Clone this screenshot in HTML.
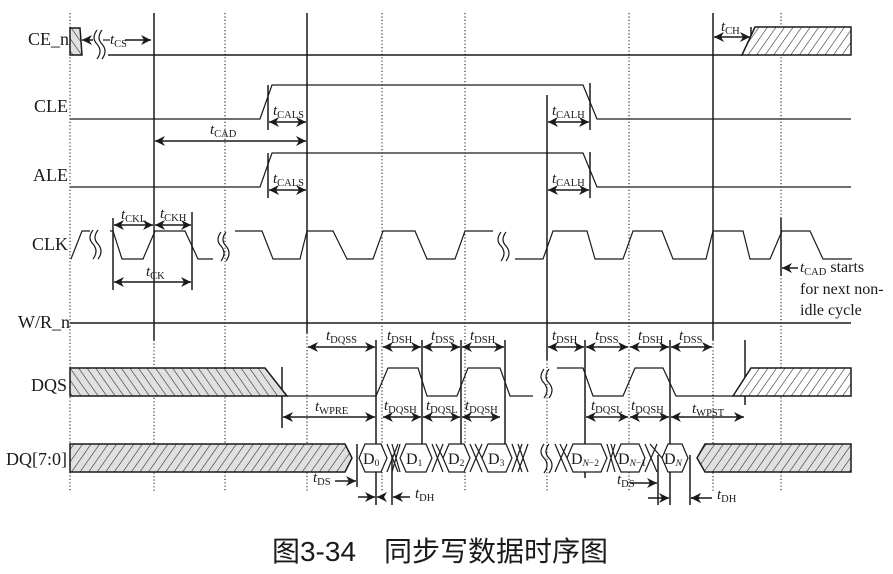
<!DOCTYPE html>
<html><head><meta charset="utf-8"><style>
html,body{margin:0;padding:0;background:#fff;}
svg{display:block;}
text{font-family:"Liberation Serif",serif;fill:#1a1a1a;}
.lb{font-size:18px;}
.t{font-size:15px;}
.s{font-size:10.5px;}
</style></head><body>
<svg width="893" height="574" viewBox="0 0 893 574" xmlns="http://www.w3.org/2000/svg">
<defs>
<pattern id="hf" width="7" height="7" patternUnits="userSpaceOnUse" patternTransform="rotate(35)">
<rect width="7" height="7" fill="#e0e0e0"/><line x1="0" y1="0" x2="0" y2="7" stroke="#222" stroke-width="1.1"/></pattern>
<pattern id="hb" width="7" height="7" patternUnits="userSpaceOnUse" patternTransform="rotate(-35)">
<rect width="7" height="7" fill="#e0e0e0"/><line x1="0" y1="0" x2="0" y2="7" stroke="#222" stroke-width="1.1"/></pattern>
<pattern id="hw" width="7" height="7" patternUnits="userSpaceOnUse" patternTransform="rotate(35)">
<rect width="7" height="7" fill="#fff"/><line x1="0" y1="0" x2="0" y2="7" stroke="#222" stroke-width="1.1"/></pattern>
<marker id="a" viewBox="0 0 10 10" refX="10" refY="5" markerWidth="10" markerHeight="10" orient="auto-start-reverse" markerUnits="userSpaceOnUse">
<path d="M0,0 L10,5 L0,10 L3,5 z" fill="#1a1a1a"/></marker>
</defs>

<g stroke="#222" stroke-width="1.1" stroke-dasharray="1.2,2.2" fill="none">
<line x1="70" y1="13" x2="70" y2="492"/>
<line x1="225" y1="13" x2="225" y2="492"/>
<line x1="382" y1="13" x2="382" y2="492"/>
<line x1="465" y1="13" x2="465" y2="492"/>
<line x1="629" y1="13" x2="629" y2="492"/>
<line x1="781" y1="13" x2="781" y2="492"/>
<line x1="307" y1="333" x2="307" y2="492"/>
<line x1="154" y1="340" x2="154" y2="492"/>
<line x1="547" y1="360" x2="547" y2="492"/>
<line x1="713" y1="340" x2="713" y2="492"/>
</g>

<g stroke="#1a1a1a" stroke-width="1.5" fill="none">
<line x1="154" y1="13" x2="154" y2="340"/>
<line x1="307" y1="13" x2="307" y2="333"/>
<line x1="547" y1="95" x2="547" y2="360"/>
<line x1="713" y1="13" x2="713" y2="340"/>
<line x1="108" y1="55" x2="742" y2="55"/>
<polyline points="70,119 260,119 272,85 583,85 597,119 851,119" stroke-width="1.2"/>
<line x1="268" y1="85" x2="268" y2="130"/>
<line x1="590" y1="83" x2="590" y2="130"/>
<polyline points="70,187 260,187 272,153 583,153 597,187 851,187" stroke-width="1.2"/>
<line x1="268" y1="153" x2="268" y2="198"/>
<line x1="590" y1="152" x2="590" y2="198"/>
<polyline points="71,259 82,231 90,231" stroke-width="1.2"/>
<polyline points="110,231 113,231 122,259 143,259 155,231 185,231 198,259 213,259" stroke-width="1.2"/>
<polyline points="235,231 262,231 273,259 300,259 307,231 333,231 347,259 373,259 383,231 415,231 427,259 455,259 465,231 493,231" stroke-width="1.2"/>
<polyline points="515,259 543,259 553,231 587,231 595,259 623,259 633,231 662,231 673,259 706,259 713,231 743,231 750,259 770,259 782,231 810,231 823,259 852,259" stroke-width="1.2"/>
<line x1="113" y1="218" x2="113" y2="290"/>
<line x1="192" y1="212" x2="192" y2="290"/>
<line x1="781" y1="218" x2="781" y2="276"/>
<line x1="70" y1="323" x2="851" y2="323"/>
<polyline points="287,396 376,396 388,368 418,368 427,396 457,396 468,368 500,368 510,396 533,396" stroke-width="1.2"/>
<polyline points="557,368 583,368 593,396 623,396 635,368 663,368 676,396 733,396" stroke-width="1.2"/>
<line x1="282" y1="367" x2="282" y2="428"/>
<line x1="376" y1="340" x2="376" y2="505"/>
<line x1="422" y1="340" x2="422" y2="470"/>
<line x1="461" y1="340" x2="461" y2="470"/>
<line x1="505" y1="340" x2="505" y2="470"/>
<line x1="585" y1="340" x2="585" y2="478"/>
<line x1="670" y1="340" x2="670" y2="505"/>
<line x1="745" y1="340" x2="745" y2="405"/>
<line x1="751" y1="27" x2="751" y2="55"/>
<line x1="357" y1="444" x2="357" y2="487"/>
<line x1="392" y1="455" x2="392" y2="505"/>
<line x1="658" y1="455" x2="658" y2="505"/>
<line x1="690" y1="455" x2="690" y2="505"/>
</g>

<g stroke="#1a1a1a" stroke-width="1.5">
<polygon points="70,28 80,28 82,55 70,55" fill="url(#hb)"/>
<polygon points="742,55 755,27 851,27 851,55" fill="url(#hw)"/>
<polygon points="70,368 265,368 287,396 70,396" fill="url(#hb)"/>
<polygon points="733,396 751,368 851,368 851,396" fill="url(#hw)"/>
<polygon points="70,444 345,444 352,458 345,472 70,472" fill="url(#hf)"/>
<polygon points="697,458 705,444 851,444 851,472 705,472" fill="url(#hf)"/>
</g>

<g stroke="#1a1a1a" stroke-width="1.2" fill="#fff">
<polygon points="359,458 365,444 381,444 387,458 381,472 365,472"/>
<polygon points="400,458 406,444 426,444 432,458 426,472 406,472"/>
<polygon points="443,458 449,444 464,444 470,458 464,472 449,472"/>
<polygon points="482,458 488,444 506,444 512,458 506,472 488,472"/>
<polygon points="567,458 573,444 601,444 607,458 601,472 573,472"/>
<polygon points="615,458 621,444 639,444 645,458 639,472 621,472"/>
<polygon points="662,458 668,444 682,444 688,458 682,472 668,472"/>
</g>
<g stroke="#1a1a1a" stroke-width="1.2" fill="none">
<path d="M387,444 L398,472 M387,472 L398,444 M392,444 L400,472 M392,472 L400,444"/>
<path d="M432,444 L443,472 M432,472 L443,444 M436,444 L443,458"/>
<path d="M470,444 L482,472 M470,472 L482,444 M475,444 L482,458"/>
<path d="M512,444 L522,472 M512,472 L522,444 M518,444 L528,472 M518,472 L528,444"/>
<path d="M555,444 L567,472 M555,472 L567,444 M560,444 L567,458"/>
<path d="M607,444 L615,472 M607,472 L615,444 M611,444 L615,458"/>
<path d="M645,444 L657,472 M645,472 L657,444 M650,444 L662,458"/>
<path d="M93,230 q-6,8 0,14 q6,7 0,15 M98,230 q-6,8 0,14 q6,7 0,15"/>
<path d="M221,232 q-6,8 0,14 q6,7 0,15 M226,232 q-6,8 0,14 q6,7 0,15"/>
<path d="M501,232 q-6,8 0,14 q6,7 0,15 M506,232 q-6,8 0,14 q6,7 0,15"/>
<path d="M544,369 q-6,8 0,14 q6,7 0,15 M549,369 q-6,8 0,14 q6,7 0,15"/>
<path d="M544,444 q-6,8 0,14 q6,7 0,15 M549,444 q-6,8 0,14 q6,7 0,15"/>
<path d="M97,30 q-6,8 0,14 q6,7 0,15 M102,30 q-6,8 0,14 q6,7 0,15"/>
</g>

<g stroke="#1a1a1a" stroke-width="1.5" fill="none" marker-start="url(#a)" marker-end="url(#a)">
<line x1="114" y1="225" x2="153" y2="225"/>
<line x1="155" y1="225" x2="191" y2="225"/>
<line x1="114" y1="282" x2="191" y2="282"/>
<line x1="155" y1="141" x2="306" y2="141"/>
<line x1="269" y1="122" x2="306" y2="122"/>
<line x1="269" y1="190" x2="306" y2="190"/>
<line x1="548" y1="122" x2="589" y2="122"/>
<line x1="548" y1="190" x2="589" y2="190"/>
<line x1="714" y1="37" x2="750" y2="37"/>
<line x1="308" y1="347" x2="375" y2="347"/>
<line x1="383" y1="347" x2="421" y2="347"/>
<line x1="423" y1="347" x2="460" y2="347"/>
<line x1="462" y1="347" x2="504" y2="347"/>
<line x1="548" y1="347" x2="584" y2="347"/>
<line x1="586" y1="347" x2="628" y2="347"/>
<line x1="630" y1="347" x2="669" y2="347"/>
<line x1="671" y1="347" x2="712" y2="347"/>
<line x1="283" y1="417" x2="375" y2="417"/>
<line x1="383" y1="417" x2="421" y2="417"/>
<line x1="423" y1="417" x2="460" y2="417"/>
<line x1="462" y1="417" x2="500" y2="417"/>
<line x1="586" y1="417" x2="628" y2="417"/>
<line x1="630" y1="417" x2="669" y2="417"/>
<line x1="671" y1="417" x2="744" y2="417"/>
</g>
<g stroke="#1a1a1a" stroke-width="1.5" fill="none" marker-end="url(#a)">
<line x1="93" y1="40" x2="82" y2="40"/>
<line x1="125" y1="40" x2="151" y2="40"/>
<line x1="335" y1="481" x2="356" y2="481"/>
<line x1="358" y1="497" x2="375" y2="497"/>
<line x1="410" y1="497" x2="393" y2="497"/>
<line x1="630" y1="483" x2="657" y2="483"/>
<line x1="648" y1="498" x2="669" y2="498"/>
<line x1="712" y1="498" x2="691" y2="498"/>
<line x1="798" y1="268" x2="782" y2="268"/>
<line x1="383" y1="497" x2="377" y2="497"/>
<line x1="700" y1="498" x2="691" y2="498"/>
</g>
<line x1="103" y1="40" x2="110" y2="40" stroke="#1a1a1a" stroke-width="1.2"/>

<g class="lb">
<text x="28" y="45">CE_n</text>
<text x="34" y="112">CLE</text>
<text x="33" y="181">ALE</text>
<text x="32" y="250">CLK</text>
<text x="18" y="328">W/R_n</text>
<text x="31" y="391">DQS</text>
<text x="6" y="465">DQ[7:0]</text>
</g>

<g class="t">
<text x="110" y="44"><tspan font-style="italic">t</tspan><tspan class="s" dy="3">CS</tspan></text>
<text x="121" y="219"><tspan font-style="italic">t</tspan><tspan class="s" dy="3">CKL</tspan></text>
<text x="160" y="218"><tspan font-style="italic">t</tspan><tspan class="s" dy="3">CKH</tspan></text>
<text x="146" y="276"><tspan font-style="italic">t</tspan><tspan class="s" dy="3">CK</tspan></text>
<text x="210" y="134"><tspan font-style="italic">t</tspan><tspan class="s" dy="3">CAD</tspan></text>
<text x="273" y="115"><tspan font-style="italic">t</tspan><tspan class="s" dy="3">CALS</tspan></text>
<text x="273" y="183"><tspan font-style="italic">t</tspan><tspan class="s" dy="3">CALS</tspan></text>
<text x="552" y="115"><tspan font-style="italic">t</tspan><tspan class="s" dy="3">CALH</tspan></text>
<text x="552" y="183"><tspan font-style="italic">t</tspan><tspan class="s" dy="3">CALH</tspan></text>
<text x="721" y="31"><tspan font-style="italic">t</tspan><tspan class="s" dy="3">CH</tspan></text>
<text x="326" y="340"><tspan font-style="italic">t</tspan><tspan class="s" dy="3">DQSS</tspan></text>
<text x="387" y="340"><tspan font-style="italic">t</tspan><tspan class="s" dy="3">DSH</tspan></text>
<text x="431" y="340"><tspan font-style="italic">t</tspan><tspan class="s" dy="3">DSS</tspan></text>
<text x="470" y="340"><tspan font-style="italic">t</tspan><tspan class="s" dy="3">DSH</tspan></text>
<text x="552" y="340"><tspan font-style="italic">t</tspan><tspan class="s" dy="3">DSH</tspan></text>
<text x="595" y="340"><tspan font-style="italic">t</tspan><tspan class="s" dy="3">DSS</tspan></text>
<text x="638" y="340"><tspan font-style="italic">t</tspan><tspan class="s" dy="3">DSH</tspan></text>
<text x="679" y="340"><tspan font-style="italic">t</tspan><tspan class="s" dy="3">DSS</tspan></text>
<text x="315" y="411"><tspan font-style="italic">t</tspan><tspan class="s" dy="3">WPRE</tspan></text>
<text x="384" y="410"><tspan font-style="italic">t</tspan><tspan class="s" dy="3">DQSH</tspan></text>
<text x="426" y="410"><tspan font-style="italic">t</tspan><tspan class="s" dy="3">DQSL</tspan></text>
<text x="465" y="410"><tspan font-style="italic">t</tspan><tspan class="s" dy="3">DQSH</tspan></text>
<text x="591" y="410"><tspan font-style="italic">t</tspan><tspan class="s" dy="3">DQSL</tspan></text>
<text x="631" y="410"><tspan font-style="italic">t</tspan><tspan class="s" dy="3">DQSH</tspan></text>
<text x="692" y="413"><tspan font-style="italic">t</tspan><tspan class="s" dy="3">WPST</tspan></text>
<text x="313" y="482"><tspan font-style="italic">t</tspan><tspan class="s" dy="3">DS</tspan></text>
<text x="415" y="498"><tspan font-style="italic">t</tspan><tspan class="s" dy="3">DH</tspan></text>
<text x="617" y="484"><tspan font-style="italic">t</tspan><tspan class="s" dy="3">DS</tspan></text>
<text x="717" y="499"><tspan font-style="italic">t</tspan><tspan class="s" dy="3">DH</tspan></text>
<text x="800" y="272"><tspan font-style="italic">t</tspan><tspan class="s" dy="3">CAD</tspan><tspan dy="-3" font-size="16"> starts</tspan></text>
</g>
<text x="800" y="294" font-size="16">for next non-</text>
<text x="800" y="315" font-size="16">idle cycle</text>

<g font-size="16">
<text x="363" y="464">D<tspan font-size="9.5" dy="2">0</tspan></text>
<text x="406" y="464">D<tspan font-size="9.5" dy="2">1</tspan></text>
<text x="448" y="464">D<tspan font-size="9.5" dy="2">2</tspan></text>
<text x="488" y="464">D<tspan font-size="9.5" dy="2">3</tspan></text>
<text x="571" y="464">D<tspan font-size="9.5" dy="2" font-style="italic">N</tspan><tspan font-size="9.5">−2</tspan></text>
<text x="618" y="464">D<tspan font-size="9.5" dy="2" font-style="italic">N</tspan><tspan font-size="9.5">−1</tspan></text>
<text x="664" y="464">D<tspan font-size="9.5" dy="2" font-style="italic">N</tspan></text>
</g>

<text x="440" y="561" text-anchor="middle" font-size="28" style="font-family:'Liberation Sans','Noto Sans CJK SC',sans-serif;fill:#1a1a1a">图3-34　同步写数据时序图</text>
</svg>
</body></html>
